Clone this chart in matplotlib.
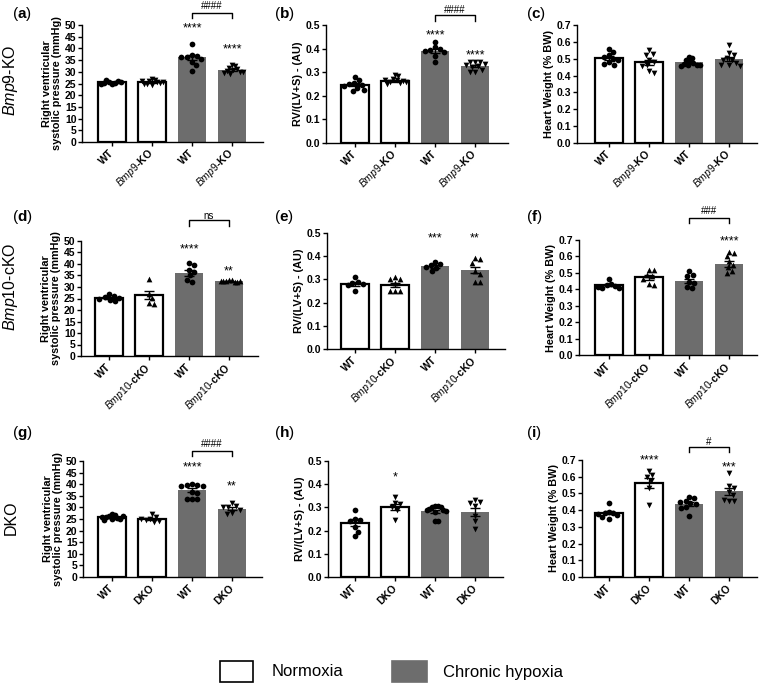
import numpy as np
import matplotlib
matplotlib.use("Agg")
import matplotlib.pyplot as plt
from matplotlib.patches import Rectangle

plt.rcParams['font.family'] = ['Liberation Sans', 'DejaVu Sans']
plt.rcParams['mathtext.fontset'] = 'custom'
plt.rcParams['mathtext.rm'] = 'Liberation Sans'
plt.rcParams['mathtext.it'] = 'Liberation Sans:italic'
plt.rcParams['mathtext.bf'] = 'Liberation Sans:bold'

# ---- labels ----
labels_bmp9 = ["WT", r"$\mathit{Bmp9}$-KO", "WT", r"$\mathit{Bmp9}$-KO"]
labels_bmp10 = ["WT", r"$\mathit{Bmp10}$-cKO", "WT", r"$\mathit{Bmp10}$-cKO"]
labels_dko = ["WT", "DKO", "WT", "DKO"]
row_titles = [r"$\mathit{Bmp9}$-KO", r"$\mathit{Bmp10}$-cKO", "DKO"]
ylabel_rvsp = "Right ventricular\nsystolic pressure (mmHg)"
ylabel_rv = "RV/(LV+S) - (AU)"
ylabel_hw = "Heart Weight (% BW)"
legend_labels = ["Normoxia", "Chronic hypoxia"]

# ---- row 1: Bmp9-KO ----
rvsp_bmp9_means = [25.6, 25.6, 36.2, 30.8]
rvsp_bmp9_sem = [0.2, 0.25, 1.1, 0.4]
rvsp_bmp9_pts = [
    [25.0, 25.3, 25.6, 25.9, 26.5, 25.2, 25.8, 24.9],
    [27.0, 26.5, 26.0, 25.5, 25.0, 24.5, 24.8, 25.3, 26.2, 25.8],
    [41.7, 37.1, 36.8, 36.4, 36.5, 35.3, 34.3, 32.9, 30.4],
    [32.8, 32.6, 31.5, 31.0, 30.6, 30.2, 29.8, 29.5, 30.0, 29.2],
]
rv_bmp9_means = [0.247, 0.263, 0.39, 0.326]
rv_bmp9_sem = [0.006, 0.004, 0.009, 0.006]
rv_bmp9_pts = [
    [0.28, 0.265, 0.255, 0.25, 0.245, 0.24, 0.235, 0.22, 0.225],
    [0.29, 0.285, 0.27, 0.265, 0.26, 0.255, 0.25, 0.262, 0.268, 0.258],
    [0.43, 0.405, 0.40, 0.395, 0.39, 0.385, 0.37, 0.345],
    [0.345, 0.345, 0.345, 0.335, 0.325, 0.32, 0.31, 0.30, 0.30, 0.33],
]
hw_bmp9_means = [0.503, 0.478, 0.478, 0.497]
hw_bmp9_sem = [0.011, 0.015, 0.006, 0.012]
hw_bmp9_pts = [
    [0.56, 0.54, 0.52, 0.51, 0.50, 0.49, 0.48, 0.47, 0.465],
    [0.55, 0.53, 0.525, 0.49, 0.48, 0.46, 0.455, 0.425, 0.415],
    [0.51, 0.505, 0.49, 0.48, 0.475, 0.47, 0.465, 0.46, 0.455, 0.46],
    [0.58, 0.535, 0.525, 0.505, 0.495, 0.49, 0.475, 0.465, 0.46, 0.455],
]

# ---- row 2: Bmp10-cKO ----
rvsp_bmp10_means = [25.2, 26.4, 36.1, 32.6]
rvsp_bmp10_sem = [0.45, 1.7, 1.2, 0.15]
rvsp_bmp10_pts = [
    [26.8, 26.2, 25.5, 25.0, 24.5, 23.8, 25.3],
    [33.3, 27.0, 25.2, 23.0, 22.8],
    [40.5, 39.5, 37.3, 36.6, 35.0, 33.0, 32.2],
    [33.2, 32.9, 32.6, 32.4, 32.2, 32.0, 32.5, 32.8],
]
rv_bmp10_means = [0.28, 0.277, 0.356, 0.339]
rv_bmp10_sem = [0.008, 0.009, 0.006, 0.013]
rv_bmp10_pts = [
    [0.31, 0.29, 0.285, 0.28, 0.275, 0.25],
    [0.31, 0.30, 0.30, 0.285, 0.25, 0.25, 0.25],
    [0.375, 0.365, 0.36, 0.355, 0.35, 0.335],
    [0.392, 0.388, 0.372, 0.335, 0.325, 0.29, 0.29],
]
hw_bmp10_means = [0.425, 0.472, 0.452, 0.555]
hw_bmp10_sem = [0.007, 0.013, 0.013, 0.017]
hw_bmp10_pts = [
    [0.465, 0.435, 0.425, 0.42, 0.41, 0.405, 0.415],
    [0.52, 0.515, 0.49, 0.48, 0.465, 0.43, 0.425],
    [0.51, 0.49, 0.48, 0.445, 0.44, 0.415, 0.41],
    [0.63, 0.62, 0.60, 0.57, 0.55, 0.535, 0.51, 0.50],
]

# ---- row 3: DKO ----
rvsp_dko_means = [25.8, 25.0, 37.5, 29.5]
rvsp_dko_sem = [0.3, 0.5, 0.9, 0.7]
rvsp_dko_pts = [
    [27.3, 26.8, 26.4, 26.0, 25.6, 25.2, 24.8, 24.4, 25.8, 26.2],
    [27.3, 26.0, 25.2, 24.6, 24.2, 23.8, 25.0],
    [40.0, 39.8, 39.6, 39.4, 39.2, 36.5, 36.2, 33.5, 33.5, 33.8],
    [32.0, 30.5, 30.3, 30.0, 29.0, 27.5, 27.3],
]
rv_dko_means = [0.234, 0.302, 0.284, 0.281]
rv_dko_sem = [0.014, 0.013, 0.006, 0.016]
rv_dko_pts = [
    [0.29, 0.25, 0.245, 0.24, 0.215, 0.195, 0.175],
    [0.345, 0.32, 0.315, 0.30, 0.29, 0.245],
    [0.305, 0.305, 0.30, 0.30, 0.295, 0.29, 0.29, 0.285, 0.28, 0.24, 0.24],
    [0.33, 0.325, 0.32, 0.305, 0.265, 0.24, 0.205],
]
hw_dko_means = [0.385, 0.565, 0.437, 0.513]
hw_dko_sem = [0.009, 0.03, 0.011, 0.02]
hw_dko_pts = [
    [0.44, 0.39, 0.385, 0.38, 0.37, 0.36, 0.35, 0.375],
    [0.635, 0.61, 0.60, 0.575, 0.53, 0.43],
    [0.48, 0.47, 0.455, 0.45, 0.44, 0.435, 0.42, 0.415, 0.365],
    [0.625, 0.545, 0.535, 0.51, 0.49, 0.455, 0.455, 0.46],
]

# ---- significance: (bar, y, text) and bracket (y_top, y_end, text, y_text) ----
stars_a = [(2, 50.4, "****"), (3, 41.4, "****")]
bracket_a = (55.0, 53.0, "####", 58.5)
stars_b = [(2, 0.472, "****"), (3, 0.387, "****")]
bracket_b = (0.542, 0.518, "####", 0.564)
stars_d = [(2, 48.1, "****"), (3, 38.7, "**")]
bracket_d = (59.0, 56.4, "ns", 60.8)
stars_e = [(2, 0.493, "***"), (3, 0.493, "**")]
stars_f = [(3, 0.72, "****")]
bracket_f = (0.835, 0.805, "###", 0.88)
stars_g = [(2, 49.0, "****"), (3, 41.0, "**")]
bracket_g = (54.3, 52.2, "####", 57.4)
stars_h = [(1, 0.447, "*")]
stars_i = [(1, 0.72, "****"), (3, 0.68, "***")]
bracket_i = (0.78, 0.75, "#", 0.81)

W, H = 760, 685
GRAY = "#6d6d6d"
PITCH = 40.0  # pixels between bar centres
FS = 7.5


def swarm(vals, px_per_unit, d=5.4, limit=11.0):
    placed = []
    offs = []
    for v in vals:
        y = v * px_per_unit
        cands = [0.0]
        for px, py in placed:
            dy = y - py
            if abs(dy) < d:
                dx = np.sqrt(d * d - dy * dy)
                cands += [px + dx, px - dx]
        cands.sort(key=abs)
        best = cands[0]
        for c in cands:
            if all((c - px) ** 2 + (y - py) ** 2 >= d * d - 1e-6 for px, py in placed):
                best = c
                break
        placed.append((best, y))
        offs.append(best)
    offs = np.array(offs)
    m = np.abs(offs).max() if len(offs) else 0
    if m > limit:
        offs = offs * limit / m
    return offs / PITCH


def label_at(ax, x, y, s, fs, center_em):
    ax.annotate(s, (x, y), xytext=(0, -center_em * fs), textcoords="offset points",
                ha="center", va="baseline", fontsize=fs, annotation_clip=False)


def panel(fig, rect, c0, ymax, ystep, yfmt, ylabel, xlabels, ko_marker,
          means, sem, pts, stars=(), bracket=None, letter="", letter_xy=(0, 0)):
    left, right, top, bottom = rect
    ax = fig.add_axes([left / W, 1 - bottom / H, (right - left) / W, (bottom - top) / H])
    x = np.arange(4)
    ax.set_xlim((left - c0) / PITCH, (right - c0) / PITCH)
    ax.set_ylim(0, ymax)
    ax.bar(x[:2], means[:2], width=0.68, color="white", edgecolor="black",
           linewidth=1.6, zorder=2)
    ax.bar(x[2:], means[2:], width=0.72, color=GRAY, linewidth=0, zorder=2)
    ppu = (bottom - top) / ymax
    for i in range(4):
        off = swarm(pts[i], ppu)
        mk = "o" if i % 2 == 0 else ko_marker
        ax.scatter(i + off, pts[i], s=17, marker=mk, color="black", linewidths=0,
                   zorder=3, clip_on=False)
    ax.errorbar(x, means, yerr=sem, fmt="none", ecolor="black", elinewidth=1,
                capsize=3.5, capthick=1, zorder=4)
    for b, yv, s in stars:
        label_at(ax, b, yv, s, 9, 0.58)
    if bracket is not None:
        yt, ye, s, ys = bracket
        ax.plot([2, 2, 3, 3], [ye, yt, yt, ye], color="black", lw=1, clip_on=False)
        label_at(ax, 2.5, ys, s, 7, 0.36 if s != "ns" else 0.26)

    ax.set_yticks(np.arange(0, ymax + ystep / 2, ystep))
    ax.set_yticklabels([yfmt.format(v) for v in np.arange(0, ymax + ystep / 2, ystep)],
                       fontsize=FS, fontweight="bold")
    ax.set_xticks(x)
    ax.set_xticklabels(xlabels, rotation=45, ha="right", va="center",
                       rotation_mode="anchor", fontsize=FS, fontweight="bold")
    ax.tick_params(axis="x", length=3, width=1, pad=4)
    ax.tick_params(axis="y", length=3, width=1, pad=1)
    ax.set_ylabel(ylabel, fontsize=FS + 0.3, fontweight="bold", labelpad=2, linespacing=1.0)
    for sp in ["top", "right"]:
        ax.spines[sp].set_visible(False)
    for sp in ["left", "bottom"]:
        ax.spines[sp].set_linewidth(1)
    fig.text(letter_xy[0] / W, 1 - letter_xy[1] / H, "(" + r"$\mathbf{" + letter + "}$" + ")",
             fontsize=11, ha="left", va="center")
    return ax


fig = plt.figure(figsize=(W / 100, H / 100), dpi=100)

# row 1
panel(fig, (82, 263, 25, 142), 112, 50, 5, "{:.0f}", ylabel_rvsp, labels_bmp9, "v",
      rvsp_bmp9_means, rvsp_bmp9_sem, rvsp_bmp9_pts, stars_a, bracket_a, "a", (12, 14))
panel(fig, (326, 508, 25, 143), 355, 0.5, 0.1, "{:.1f}", ylabel_rv, labels_bmp9, "v",
      rv_bmp9_means, rv_bmp9_sem, rv_bmp9_pts, stars_b, bracket_b, "b", (274, 14))
panel(fig, (577, 757, 25, 143), 609, 0.7, 0.1, "{:.1f}", ylabel_hw, labels_bmp9, "v",
      hw_bmp9_means, hw_bmp9_sem, hw_bmp9_pts, (), None, "c", (526, 14))
# row 2
panel(fig, (81, 258, 241, 356), 109, 50, 5, "{:.0f}", ylabel_rvsp, labels_bmp10, "^",
      rvsp_bmp10_means, rvsp_bmp10_sem, rvsp_bmp10_pts, stars_d, bracket_d, "d", (12, 217))
panel(fig, (327, 505, 233, 349), 355, 0.5, 0.1, "{:.1f}", ylabel_rv, labels_bmp10, "^",
      rv_bmp10_means, rv_bmp10_sem, rv_bmp10_pts, stars_e, None, "e", (274, 217))
panel(fig, (579, 757, 240, 355), 609, 0.7, 0.1, "{:.1f}", ylabel_hw, labels_bmp10, "^",
      hw_bmp10_means, hw_bmp10_sem, hw_bmp10_pts, stars_f, bracket_f, "f", (526, 217))
# row 3
panel(fig, (83, 262, 461, 577), 112, 50, 5, "{:.0f}", ylabel_rvsp, labels_dko, "v",
      rvsp_dko_means, rvsp_dko_sem, rvsp_dko_pts, stars_g, bracket_g, "g", (12, 433))
panel(fig, (328, 503, 461, 577), 355, 0.5, 0.1, "{:.1f}", ylabel_rv, labels_dko, "v",
      rv_dko_means, rv_dko_sem, rv_dko_pts, stars_h, None, "h", (274, 433))
panel(fig, (582, 757, 460, 577), 609, 0.7, 0.1, "{:.1f}", ylabel_hw, labels_dko, "v",
      hw_dko_means, hw_dko_sem, hw_dko_pts, stars_i, bracket_i, "i", (526, 433))

# row titles
for title, yc in zip(row_titles, [80, 287, 518]):
    fig.text(11 / W, 1 - yc / H, title, rotation=90, fontsize=11.5, ha="center", va="center")

# legend
fig.add_artist(Rectangle((220 / W, 1 - 682 / H), 33 / W, 21 / H, transform=fig.transFigure,
                         facecolor="white", edgecolor="black", lw=1.2))
fig.add_artist(Rectangle((392 / W, 1 - 682 / H), 35 / W, 21 / H, transform=fig.transFigure,
                         facecolor=GRAY, edgecolor=GRAY, lw=1.2))
fig.text(272 / W, 1 - 672 / H, legend_labels[0], fontsize=12, ha="left", va="center")
fig.text(443 / W, 1 - 672 / H, legend_labels[1], fontsize=12, ha="left", va="center")

fig.savefig("out.png", dpi=100, facecolor="white")
